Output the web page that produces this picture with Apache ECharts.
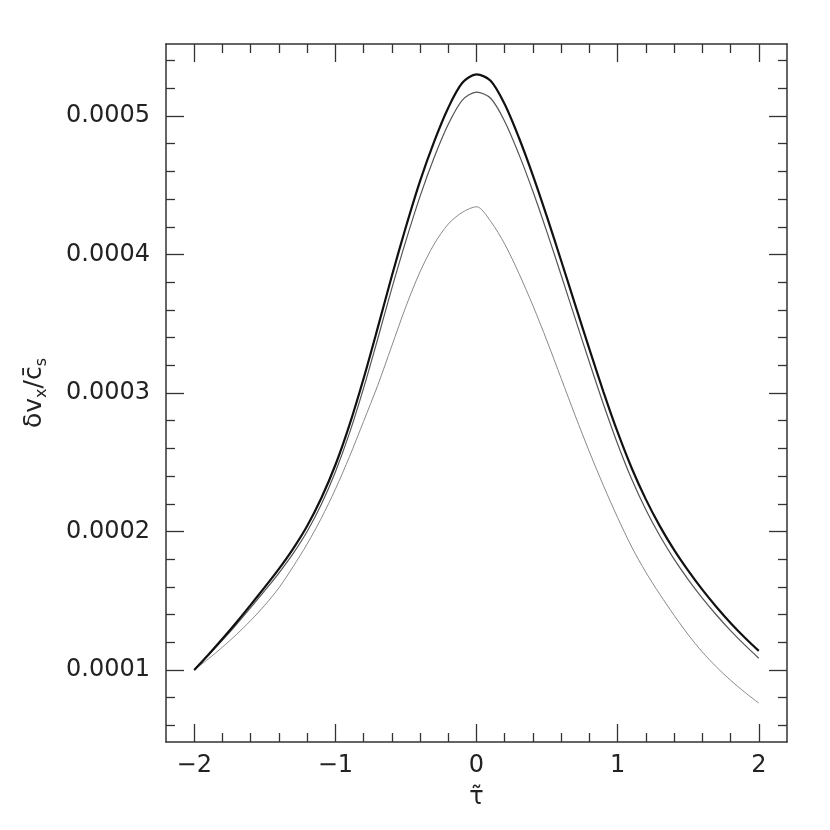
<!DOCTYPE html>
<html>
<head>
<meta charset="utf-8">
<script src="https://cdn.jsdelivr.net/npm/echarts@6/dist/echarts.min.js"></script>
<style>
  html, body { margin: 0; padding: 0; background: #ffffff; }
  #chart { width: 830px; height: 830px; }
</style>
</head>
<body>
<div id="chart"></div>
<script>
// tau-tilde sample positions, -2 .. 2 step 0.1
const tau = [-2, -1.9, -1.8, -1.7, -1.6, -1.5, -1.4, -1.3, -1.2, -1.1, -1, -0.9, -0.8, -0.7, -0.6, -0.5, -0.4, -0.3, -0.2, -0.1,
             0, 0.1, 0.2, 0.3, 0.4, 0.5, 0.6, 0.7, 0.8, 0.9, 1, 1.1, 1.2, 1.3, 1.4, 1.5, 1.6, 1.7, 1.8, 1.9, 2];

// (units of 1e-4)
const upperThick = [1.000, 1.110, 1.225, 1.345, 1.470, 1.598, 1.730, 1.875, 2.040, 2.240, 2.480, 2.770, 3.105, 3.470, 3.845, 4.200, 4.530, 4.815, 5.060, 5.240,
                    5.300, 5.255, 5.085, 4.845, 4.570, 4.270, 3.955, 3.635, 3.317, 3.007, 2.717, 2.457, 2.232, 2.037, 1.867, 1.717, 1.580, 1.455, 1.340, 1.235, 1.138];
const upperThin = [1.000, 1.105, 1.215, 1.330, 1.450, 1.573, 1.700, 1.840, 2.000, 2.195, 2.430, 2.710, 3.035, 3.390, 3.755, 4.100, 4.420, 4.700, 4.940, 5.115,
                   5.172, 5.128, 4.961, 4.725, 4.455, 4.160, 3.850, 3.535, 3.222, 2.917, 2.632, 2.377, 2.157, 1.967, 1.800, 1.653, 1.519, 1.397, 1.284, 1.181, 1.085];
const lower = [1.000, 1.080, 1.165, 1.257, 1.357, 1.468, 1.593, 1.745, 1.910, 2.095, 2.305, 2.540, 2.795, 3.055, 3.340, 3.625, 3.875, 4.075, 4.220, 4.305,
               4.345, 4.240, 4.075, 3.865, 3.630, 3.375, 3.105, 2.835, 2.575, 2.330, 2.100, 1.888, 1.705, 1.545, 1.395, 1.255, 1.130, 1.022, 0.926, 0.840, 0.761];

// ticks
const xMajor = [-2, -1, 0, 1, 2];
const xMinor = [-1.8, -1.6, -1.4, -1.2, -0.8, -0.6, -0.4, -0.2, 0.2, 0.4, 0.6, 0.8, 1.2, 1.4, 1.6, 1.8];
const yMajor = [0.0001, 0.0002, 0.0003, 0.0004, 0.0005];
const yMinor = [0.00006, 0.00008, 0.00012, 0.00014, 0.00016, 0.00018, 0.00022, 0.00024, 0.00026, 0.00028,
                0.00032, 0.00034, 0.00036, 0.00038, 0.00042, 0.00044, 0.00046, 0.00048, 0.00052, 0.00054];

const xMin = -2.2, xMax = 2.2;
const yMin = 0.000048, yMax = 0.000552;

const font = "DejaVu Sans";
const frameColor = "#333";

const pairs = (ys) => tau.map((t, i) => [t, ys[i] * 1e-4]);

// one axis per side and tick size
function xAx(pos, ticks, len, main) {
  return {
    type: "value", position: pos, min: xMin, max: xMax,
    axisLine: { show: main, onZero: false, lineStyle: { color: frameColor, width: 1.5 } },
    axisTick: { show: true, inside: true, length: len, customValues: ticks, lineStyle: { color: frameColor, width: 1.3 } },
    axisLabel: main && pos === "bottom" ? {
      show: true, customValues: xMajor, margin: 12,
      fontFamily: font, fontSize: 24, color: "#222",
      formatter: (v) => String(v).replace("-", "\u2212"),
    } : { show: false },
    splitLine: { show: false },
    name: main && pos === "bottom" ? "\u03c4\u0303" : "",
    nameLocation: "middle", nameGap: 44,
    nameTextStyle: { fontFamily: font, fontSize: 24, color: "#222" },
  };
}
function yAx(pos, ticks, len, main) {
  return {
    type: "value", position: pos, min: yMin, max: yMax,
    axisLine: { show: main, onZero: false, lineStyle: { color: frameColor, width: 1.5 } },
    axisTick: { show: true, inside: true, length: len, customValues: ticks, lineStyle: { color: frameColor, width: 1.3 } },
    axisLabel: main && pos === "left" ? {
      show: true, customValues: yMajor, margin: 16,
      fontFamily: font, fontSize: 24, color: "#222",
      formatter: (v) => v.toFixed(4),
    } : { show: false },
    splitLine: { show: false },
    name: main && pos === "left" ? "{a|\u03b4v}{s|x}{a|/}{a|c\u0304}{s|s}" : "",
    nameLocation: "middle", nameGap: 116,
    nameTextStyle: {
      fontFamily: font, color: "#222",
      rich: {
        a: { fontFamily: font, fontSize: 25, color: "#222", lineHeight: 32 },
        s: { fontFamily: font, fontSize: 16, color: "#222", lineHeight: 32, verticalAlign: "bottom", padding: [10, 0, 0, 0] },
      },
    },
  };
}

const chart = echarts.init(document.getElementById("chart"));
chart.setOption({
  animation: false,
  backgroundColor: "#ffffff",
  grid: { left: 166, right: 43, top: 44, bottom: 88, containLabel: false, outerBoundsMode: "none" },
  xAxis: [
    xAx("bottom", xMajor, 18, true),
    xAx("bottom", xMinor, 9, false),
    xAx("top", xMajor, 18, true),
    xAx("top", xMinor, 9, false),
  ],
  yAxis: [
    yAx("left", yMajor, 18, true),
    yAx("left", yMinor, 9, false),
    yAx("right", yMajor, 18, true),
    yAx("right", yMinor, 9, false),
  ],
  series: [
    {
      type: "line", data: pairs(lower), smooth: 0.3, symbol: "none",
      lineStyle: { color: "#8a8a8a", width: 1 },
    },
    {
      type: "line", data: pairs(upperThin), smooth: 0.3, symbol: "none",
      lineStyle: { color: "#555", width: 1.2 },
    },
    {
      type: "line", data: pairs(upperThick), smooth: 0.3, symbol: "none",
      lineStyle: { color: "#111", width: 2.2 },
    },
  ],
});
</script>
</body>
</html>
